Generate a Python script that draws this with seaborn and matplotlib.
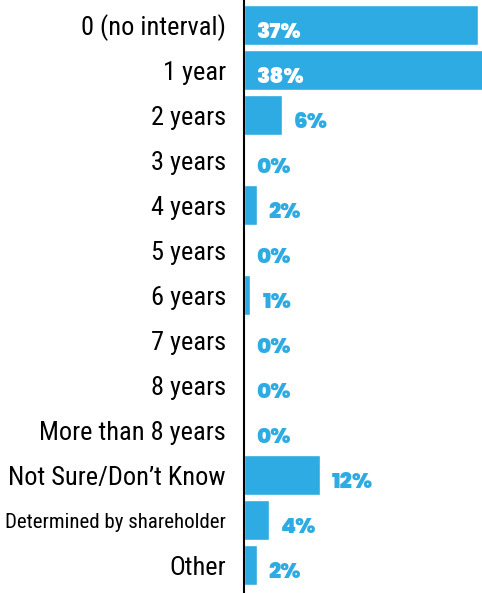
import matplotlib
matplotlib.use("Agg")
import matplotlib.pyplot as plt
import seaborn as sns
import pandas as pd

categories = ["0 (no interval)", "1 year", "2 years", "3 years", "4 years", "5 years",
              "6 years", "7 years", "8 years", "More than 8 years",
              "Not Sure/Don\u2019t Know", "Determined by shareholder", "Other"]
values = [37, 38, 6, 0, 2, 0, 1, 0, 0, 0, 12, 4, 2]
value_labels = ["37%", "38%", "6%", "0%", "2%", "0%", "1%", "0%", "0%", "0%", "12%", "4%", "2%"]

BLUE = "#2EABE2"
LABEL_FONT = ["Roboto Condensed", "Barlow Semi Condensed", "DejaVu Sans"]
VALUE_FONT = ["Poppins", "DejaVu Sans"]

sns.set_theme(style="white")
plt.rcParams["font.family"] = LABEL_FONT

df = pd.DataFrame({"category": categories, "value": values})

fig = plt.figure(figsize=(4.82, 5.93), dpi=100)
ax = fig.add_axes([244 / 482, 0, 1 - 244 / 482, 1])
sns.barplot(data=df, x="value", y="category", orient="h", color=BLUE,
            saturation=1, width=0.9, ax=ax)

ax.set_xlim(0, 238 / 6.32)
ax.set_ylim(12.62, -0.556)
ax.set_xlabel("")
ax.set_ylabel("")
ax.set_xticks([])
for s in ["top", "right", "bottom"]:
    ax.spines[s].set_visible(False)
ax.spines["left"].set_color("black")
ax.spines["left"].set_linewidth(1.5)

ax.tick_params(axis="y", length=0, pad=13, labelsize=19, labelcolor="black")
for t in ax.get_yticklabels():
    if t.get_text().startswith("Determined"):
        t.set_fontsize(15)

for i, (v, lab) in enumerate(zip(values, value_labels)):
    inside = v >= 30
    ax.text((0 if inside else v) + 1.9, i + 0.18, lab,
            color="white" if inside else BLUE, fontsize=15.5, fontweight="black",
            family=VALUE_FONT, va="center", ha="left")

fig.savefig("out.png", dpi=100)
